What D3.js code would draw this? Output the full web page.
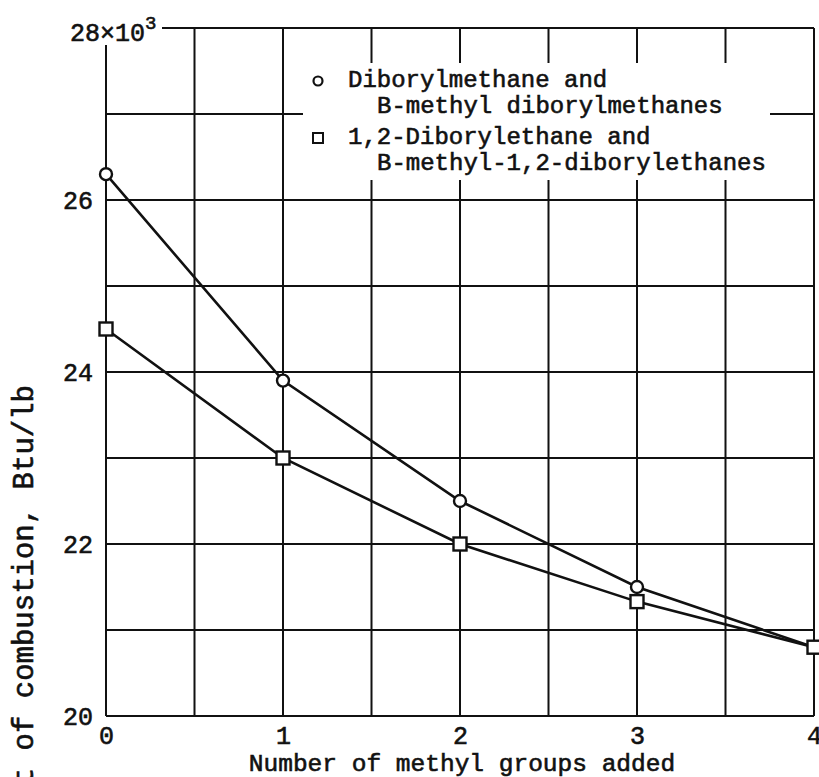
<!DOCTYPE html>
<html>
<head>
<meta charset="utf-8">
<script src="https://cdn.jsdelivr.net/npm/d3@7"></script>
<style>
  body { margin: 0; background: #fff; }
  text { font-family: "Liberation Mono", "Courier New", monospace; fill: #111; stroke: #111; stroke-width: 0.6px; }
</style>
</head>
<body>
<div id="chart"></div>
<script>
// data
const methylGroups = [0, 1, 2, 3, 4];
const diborylmethane = [26.3, 23.9, 22.5, 21.5, 20.8];
const diborylethane = [24.5, 23.0, 22.0, 21.33, 20.8];
const yTickValues = [20, 22, 24, 26];
const xTickValues = [0, 1, 2, 3, 4];
const legendLabels = [
  ["Diborylmethane and", "B-methyl diborylmethanes"],
  ["1,2-Diborylethane and", "B-methyl-1,2-diborylethanes"],
];

const width = 819, height = 777;
const svg = d3.select("#chart").append("svg")
  .attr("width", width).attr("height", height);

const x = d3.scaleLinear().domain([0, 4]).range([106, 814]);
const y = d3.scaleLinear().domain([20, 28]).range([716, 28]);

// grid
const grid = svg.append("g").attr("stroke", "#111").attr("stroke-width", 2);
grid.selectAll(".vgrid").data(d3.range(0, 4.01, 0.5)).join("line")
  .attr("x1", d => x(d)).attr("x2", d => x(d))
  .attr("y1", y(28)).attr("y2", y(20));
grid.selectAll(".hgrid").data(d3.range(20, 28.01, 1)).join("line")
  .attr("x1", x(0)).attr("x2", x(4))
  .attr("y1", d => y(d)).attr("y2", d => y(d));

// blank corner behind the top label
svg.append("rect").attr("x", 62).attr("y", 12).attr("width", 100).attr("height", 33).attr("fill", "#fff");

// y tick labels
const yAxis = svg.append("g").attr("transform", `translate(${x(0)},0)`)
  .call(d3.axisLeft(y).tickValues(yTickValues).tickSize(0).tickPadding(13));
yAxis.select(".domain").remove();
yAxis.selectAll("text").attr("font-size", 25).attr("font-family", "Liberation Mono").attr("fill", "#111");

const topLabel = svg.append("text").attr("x", 70).attr("y", 41).attr("font-size", 25);
topLabel.append("tspan").text("28×10");
topLabel.append("tspan").attr("font-size", 19).attr("dy", -12).text("3");

// x tick labels
const xAxis = svg.append("g").attr("transform", `translate(0,${y(20)})`)
  .call(d3.axisBottom(x).tickValues(xTickValues).tickSize(0).tickPadding(10).tickFormat(d3.format("d")));
xAxis.select(".domain").remove();
xAxis.selectAll("text").attr("font-size", 25).attr("font-family", "Liberation Mono").attr("fill", "#111");

// axis titles
svg.append("text")
  .attr("x", 462).attr("y", 771)
  .attr("text-anchor", "middle").attr("font-size", 24.5)
  .text("Number of methyl groups added");

svg.append("text")
  .attr("transform", "translate(33,385) rotate(-90)")
  .attr("text-anchor", "end").attr("font-size", 29)
  .text("Heat of combustion, Btu/lb");

// series
const line = d3.line().x((d, i) => x(methylGroups[i])).y(d => y(d));
[diborylmethane, diborylethane].forEach(series => {
  svg.append("path").datum(series)
    .attr("d", line).attr("fill", "none")
    .attr("stroke", "#111").attr("stroke-width", 2.6);
});

svg.selectAll(".circ").data(diborylmethane).join("circle")
  .attr("cx", (d, i) => x(methylGroups[i])).attr("cy", d => y(d))
  .attr("r", 6).attr("fill", "#fff").attr("stroke", "#111").attr("stroke-width", 2.4);

svg.selectAll(".sq").data(diborylethane).join("rect")
  .attr("x", (d, i) => x(methylGroups[i]) - 6.5).attr("y", d => y(d) - 6.5)
  .attr("width", 13).attr("height", 13)
  .attr("fill", "#fff").attr("stroke", "#111").attr("stroke-width", 2.4);

// legend
const legend = svg.append("g");
legend.append("rect").attr("x", 303).attr("y", 63).attr("width", 467).attr("height", 117).attr("fill", "#fff");
legend.append("circle").attr("cx", 318).attr("cy", 81).attr("r", 4.5)
  .attr("fill", "#fff").attr("stroke", "#111").attr("stroke-width", 2.2);
legend.append("rect").attr("x", 313).attr("y", 133).attr("width", 10).attr("height", 10)
  .attr("fill", "#fff").attr("stroke", "#111").attr("stroke-width", 2);
const lineY = [[87, 113], [144, 170]];
legendLabels.forEach((lines, i) => {
  legend.append("text").attr("x", 348).attr("y", lineY[i][0]).attr("font-size", 24).text(lines[0]);
  legend.append("text").attr("x", 377).attr("y", lineY[i][1]).attr("font-size", 24).text(lines[1]);
});
</script>
</body>
</html>
